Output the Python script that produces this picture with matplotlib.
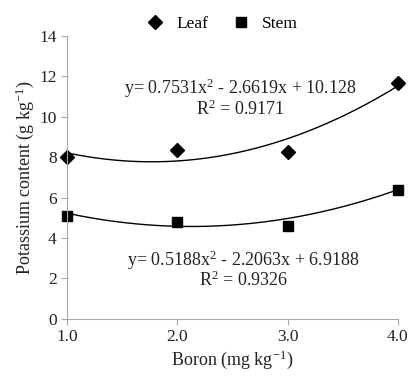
import numpy as np
import matplotlib
matplotlib.use("Agg")
import matplotlib.pyplot as plt

plt.rcParams['font.family'] = ['Liberation Serif', 'DejaVu Serif']
plt.rcParams['mathtext.fontset'] = 'custom'
plt.rcParams['mathtext.rm'] = 'Liberation Serif'
plt.rcParams['mathtext.it'] = 'Liberation Serif'
plt.rcParams['axes.unicode_minus'] = False

boron = [1.0, 2.0, 3.0, 4.0]
leaf = [8.0, 8.37, 8.25, 11.7]
stem = [5.1, 4.78, 4.62, 6.4]

# trend coefficients (as printed on the chart)
leaf_coef = [0.7531, -2.6619, 10.128]
stem_coef = [0.5188, -2.2063, 6.9188]

fig = plt.figure(figsize=(4.11, 3.76), dpi=100)
ax = fig.add_axes([0.163, 0.152, 0.805, 0.752])

xs = np.linspace(1, 4, 200)
ax.plot(xs, np.polyval(leaf_coef, xs), color='black', lw=1)
ax.plot(xs, np.polyval(stem_coef, xs), color='black', lw=1)
ax.plot(boron, leaf, 'D', color='black', ms=7, label='Leaf', clip_on=False)
ax.plot(boron, stem, 's', color='black', ms=7, label='Stem', clip_on=False)

ax.set_xlim(1, 4)
ax.set_ylim(0, 14)
ax.set_xticks([1, 2, 3, 4])
ax.set_xticklabels(['1.0', '2.0', '3.0', '4.0'])
ax.set_yticks(range(0, 15, 2))
for s in ['top', 'right']:
    ax.spines[s].set_visible(False)
for s in ['left', 'bottom']:
    ax.spines[s].set_color('#a6a6a6')
ax.tick_params(colors='#a6a6a6', labelcolor='#222222', labelsize=12.5, length=4)

ax.set_xlabel('Boron (mg kg$^{\\mathrm{-1}}$)', fontsize=13, color='#222222', labelpad=2)
ax.set_ylabel('Potassium content (g kg$^{\\mathrm{-1}}$)', fontsize=13, color='#222222', labelpad=2)

ax.text(2.57, 10.95, 'y= 0.7531x$^2$ - 2.6619x + 10.128\nR$^2$ = 0.9171',
        ha='center', va='center', fontsize=13, color='#222222', linespacing=0.95)
ax.text(2.6, 2.45, 'y= 0.5188x$^2$ - 2.2063x + 6.9188\nR$^2$ = 0.9326',
        ha='center', va='center', fontsize=13, color='#222222', linespacing=0.95)

fig.legend(loc='upper center', bbox_to_anchor=(0.53, 1.0), ncol=2, frameon=False,
           fontsize=12.5, handletextpad=0.2, columnspacing=0.9)

fig.savefig('out.png', dpi=100, facecolor='white')
